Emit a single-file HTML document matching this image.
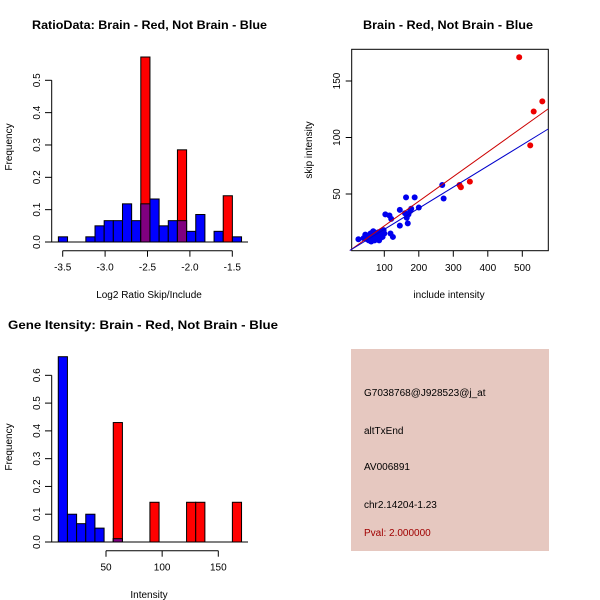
<!DOCTYPE html>
<html><head><meta charset="utf-8"><style>
body{margin:0;background:#fff}
svg{display:block;font-family:"Liberation Sans",sans-serif}
</style></head><body>
<svg id="s" width="600" height="600" viewBox="0 0 600 600">
<rect width="600" height="600" fill="#fff"/>
<text x="32" y="29" font-size="12" font-weight="bold" textLength="235" lengthAdjust="spacingAndGlyphs">RatioData: Brain - Red, Not Brain - Blue</text>
<text x="363" y="29" font-size="12" font-weight="bold" textLength="170" lengthAdjust="spacingAndGlyphs">Brain - Red, Not Brain - Blue</text>
<text x="8" y="329" font-size="12" font-weight="bold" textLength="270" lengthAdjust="spacingAndGlyphs">Gene Itensity: Brain - Red, Not Brain - Blue</text>
<text x="149" y="298" font-size="10" text-anchor="middle">Log2 Ratio Skip/Include</text>
<text x="12" y="147" font-size="10" text-anchor="middle" transform="rotate(-90 12 147)">Frequency</text>
<text x="449" y="298" font-size="10" text-anchor="middle">include intensity</text>
<text x="312" y="150" font-size="10" text-anchor="middle" transform="rotate(-90 312 150)">skip intensity</text>
<text x="149" y="598" font-size="10" text-anchor="middle">Intensity</text>
<text x="12" y="447" font-size="10" text-anchor="middle" transform="rotate(-90 12 447)">Frequency</text>
<g id="g1"></g>
<g id="g2"></g>
<g id="g3"></g>
<g>
<rect x="351" y="349" width="198" height="202" fill="#e6c8c0"/>
<text x="364" y="396" font-size="10">G7038768@J928523@j_at</text>
<text x="364" y="434" font-size="10">altTxEnd</text>
<text x="364" y="470" font-size="10">AV006891</text>
<text x="364" y="508" font-size="10">chr2.14204-1.23</text>
<text x="364" y="536" font-size="10" fill="#a00000">Pval: 2.000000</text>
</g>
</svg>
<script>
const ratioBlue=[0.016,0,0,0.016,0.05,0.066,0.066,0.118,0.066,0.118,0.133,0.05,0.066,0.066,0.033,0.085,0,0.033,0,0.016];
const ratioRed=[0,0,0,0,0,0,0,0,0,0.572,0,0,0,0.285,0,0,0,0,0.143,0];
const ratioYTicks=[0,0.1,0.2,0.3,0.4,0.5];
const ratioXTicks=[-3.5,-3.0,-2.5,-2.0,-1.5];
const intBlue=[0.667,0.1,0.066,0.1,0.05,0,0.012,0,0,0,0,0,0,0,0,0,0,0,0,0];
const intRed=[0,0,0,0,0,0,0.43,0,0,0,0.143,0,0,0,0.143,0.143,0,0,0,0.143];
const intYTicks=[0,0.1,0.2,0.3,0.4,0.5,0.6];
const intXTicks=[50,100,150];
const redX=[491,533,558,523,318,322,348];
const redY=[171,123,132,93,58,56,61];
const blueX=[268,272,163,188,145,200,175,170,165,168,145,103,115,120,118,125,160,178,25,40,45,50,55,58,60,62,65,68,70,72,75,78,80,82,85,88,90,92,95,98,100,70,60,85,52,66,74,88,94,57];
const blueY=[58,46,47,47,36,38,35,32,29,24,22,32,31,28,15,12,33,37,10,11,14,10,9,12,15,8,11,17,13,9,15,12,10,16,13,11,17,14,12,18,15,10,13,9,13,16,14,15,16,11];
const sXTicks=[100,200,300,400,500];
const sYTicks=[50,100,150];
const redSlope=0.218, blueSlope=0.187;
const NS='http://www.w3.org/2000/svg';
function mk(p,t,a){const e=document.createElementNS(NS,t);for(const k in a)e.setAttribute(k,a[k]);p.appendChild(e);return e;}
function hist(g,blue,red,x0,bw,xs,ys,yTicks,xTicks,yFmt,lineL,lineR){
  for(let i=0;i<blue.length;i++){
    const xa=xs(x0+i*bw),xb=xs(x0+(i+1)*bw),b=blue[i],r=red[i];
    if(b>0){const e=mk(g,'rect',{x:xa,y:ys(b),width:xb-xa,height:ys(0)-ys(b),fill:'#0000ff',stroke:'#000','stroke-width':1});
      
      }
    if(r>0){const e=mk(g,'rect',{x:xa,y:ys(r),width:xb-xa,height:ys(0)-ys(r),fill:'#ff0000',stroke:'#000','stroke-width':1});
      
      
      const m=Math.min(b,r);
      if(m>0){const p=mk(g,'rect',{x:xa,y:ys(m),width:xb-xa,height:ys(0)-ys(m),fill:'#800080',stroke:'#000','stroke-width':1});
        
        }}
  }
  mk(g,'line',{x1:lineL,x2:lineR,y1:ys(0),y2:ys(0),stroke:'#000'});
  mk(g,'line',{x1:51.7,x2:51.7,y1:ys(yTicks[0]),y2:ys(yTicks[yTicks.length-1]),stroke:'#000'});
  yTicks.forEach(v=>{mk(g,'line',{x1:45,x2:51.7,y1:ys(v),y2:ys(v),stroke:'#000'});
    const t=mk(g,'text',{x:40,y:ys(v),'font-size':10,'text-anchor':'middle',transform:`rotate(-90 40 ${ys(v)})`});t.textContent=yFmt(v);
    
    });
  const ay=ys(0)+8.7;
  mk(g,'line',{x1:xs(xTicks[0]),x2:xs(xTicks[xTicks.length-1]),y1:ay,y2:ay,stroke:'#000'});
  xTicks.forEach(v=>{mk(g,'line',{x1:xs(v),x2:xs(v),y1:ay,y2:ay+6,stroke:'#000'});
    const t=mk(g,'text',{x:xs(v),y:ay+20,'font-size':10,'text-anchor':'middle'});t.textContent=(v<0?v.toFixed(1):String(v));
    
    });
}
{const xs=v=>62.7+(v+3.5)*84.8, ys=v=>242-v*323.4;
 hist(document.getElementById('g1'),ratioBlue,ratioRed,-3.551,0.108,xs,ys,ratioYTicks,ratioXTicks,v=>v.toFixed(1),50,248);}
{const xs=v=>106+(v-50)*1.123, ys=v=>542-v*277.8;
 hist(document.getElementById('g3'),intBlue,intRed,7.5,8.16,xs,ys,intYTicks,intXTicks,v=>v.toFixed(1),50,248);}
{const g=document.getElementById('g2');const xs=v=>349.8+v*0.345, ys=v=>250.5-v*1.13;
 mk(g,'rect',{x:351.7,y:49.3,width:196.6,height:201.4,fill:'none',stroke:'#000'});
 sXTicks.forEach(v=>{mk(g,'line',{x1:xs(v),x2:xs(v),y1:250.7,y2:256.7,stroke:'#000'});
   const t=mk(g,'text',{x:xs(v),y:271,'font-size':10,'text-anchor':'middle'});t.textContent=v;
   
   });
 sYTicks.forEach(v=>{mk(g,'line',{x1:345.7,x2:351.7,y1:ys(v),y2:ys(v),stroke:'#000'});
   const t=mk(g,'text',{x:340,y:ys(v),'font-size':10,'text-anchor':'middle',transform:`rotate(-90 340 ${ys(v)})`});t.textContent=v;
   
   });
 redX.forEach((x,i)=>{const c=mk(g,'circle',{cx:xs(x),cy:ys(redY[i]),r:3,fill:'#ee0000'});
   
   });
 blueX.forEach((x,i)=>{const c=mk(g,'circle',{cx:xs(x),cy:ys(blueY[i]),r:3,fill:'#0000ee'});
   
   });
 const x1=0,x2=575;
 const rl=mk(g,'line',{x1:xs(x1),y1:ys(x1*redSlope),x2:xs(x2),y2:ys(x2*redSlope),stroke:'#cc0000'});
 
 
 const bl=mk(g,'line',{x1:xs(x1),y1:ys(x1*blueSlope),x2:xs(x2),y2:ys(x2*blueSlope),stroke:'#0000cc'});
 
 }
</script>
</body></html>
